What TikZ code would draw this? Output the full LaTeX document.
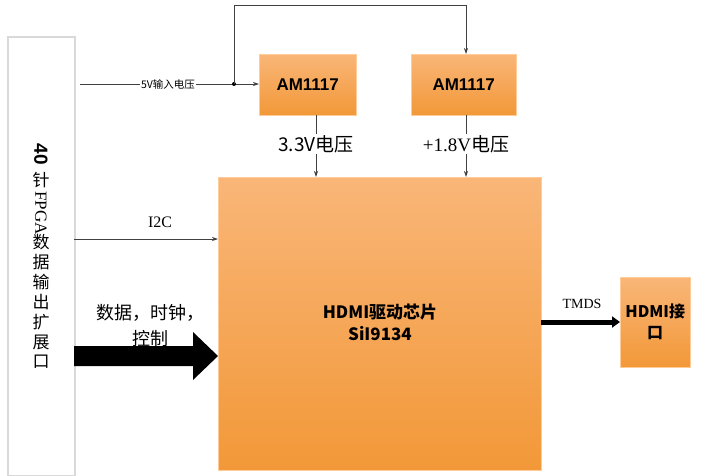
\documentclass[tikz,border=0pt]{standalone}
\usepackage{fontspec}
\setmainfont{Liberation Serif}
\newfontfamily\cjk{Noto Sans CJK SC}
\newfontfamily\sansb{Liberation Sans}
\usetikzlibrary{arrows.meta,calc}
\definecolor{orA}{HTML}{F9B678}
\definecolor{orB}{HTML}{F29838}
\tikzset{
  obox/.style={draw=orange!40, top color=orA, bottom color=orB, shading angle=0, inner sep=0},
  ln/.style={draw=black!75, line width=0.7pt},
  arr/.style={ln, -{Stealth[length=6pt,width=4pt]}},
  bl/.style={font=\sansb\bfseries\fontsize{17}{20}\selectfont, align=center},
  vc/.style={font=\cjk\fontsize{17}{20}\selectfont, inner sep=0},
}
\begin{document}
\begin{tikzpicture}[x=1pt,y=-1pt]
\useasboundingbox (0,0) rectangle (712,475);
% left box
\node[draw=black!15, line width=1.5pt, minimum width=67, minimum height=439, inner sep=0, anchor=north west] (L) at (7,36) {};
\node[vc, rotate=-90, font=\sansb\bfseries\fontsize{19}{20}\selectfont] (v1) at (41,154) {40};
\node[vc] (v2) at (41,180) {针};
\node[vc, rotate=-90, font=\fontsize{17}{20}\selectfont] (v3) at (41,213) {FPGA};
\node[vc] (v4) at (41,242) {数};
\node[vc] (v5) at (41,262) {据};
\node[vc] (v6) at (41,282) {输};
\node[vc] (v7) at (41,302) {出};
\node[vc] (v8) at (41,322) {扩};
\node[vc] (v9) at (41,342) {展};
\node[vc] (v10) at (41,362) {口};
% boxes
\node[obox, minimum width=97, minimum height=61, anchor=north west] (A1) at (259,54) {};
\node[bl] at (A1) {AM1117};
\node[obox, minimum width=105, minimum height=61, anchor=north west] (A2) at (411,54) {};
\node[bl] at (A2) {AM1117};
\node[obox, minimum width=323, minimum height=293, anchor=north west] (M) at (218,177) {};
\node[font=\cjk\bfseries\fontsize{17}{22}\selectfont, align=center] (Mt) at (380,322) {HDMI驱动芯片\\SiI9134};
\node[obox, minimum width=70, minimum height=90, anchor=north west] (H) at (620,277) {};
\node[font=\cjk\bfseries\fontsize{16}{21}\selectfont, align=center] at (H) {HDMI接\\口};
% 5V
\coordinate (s5) at (80,84);
\coordinate (j) at (234,84);
\draw[arr] (s5) -- (A1.west |- s5);
\node[fill=white, inner sep=1pt, font=\cjk\fontsize{10.5}{12}\selectfont] at (168,84) {5V输入电压};
\fill (j) circle (2);
\coordinate (t1) at (234,5);
\coordinate (t2) at (466,5);
\draw[arr] (j) -- (t1) -- (t2) -- (A2.north -| t2);
% voltages
\draw[arr] (316,115) -- (316,177);
\node[fill=white, inner sep=1pt, font=\cjk\fontsize{19}{22}\selectfont] at (316,144) {3.3V电压};
\draw[arr] (466,115) -- (466,177);
\node[fill=white, inner sep=1pt, font=\fontsize{19}{22}\selectfont] at (466,144) {+1.8V{\cjk 电压}};
% I2C
\draw[arr] (74,239) -- (218,239);
\node[font=\fontsize{16}{18}\selectfont] at (160,222) {I2C};
% big arrow
\fill (74,346) -- (193,346) -- (193,332) -- (218,356) -- (193,380) -- (193,366) -- (74,366) -- cycle;
\node[font=\cjk\fontsize{18}{26}\selectfont, align=center] at (150,326) {数据，时钟，\\控制};
% TMDS
\draw[black, line width=5pt, -{Triangle[length=8pt,width=11pt]}] (541,322) -- (H.west |- 0,322);
\node[font=\fontsize{14}{16}\selectfont] at (582,304) {TMDS};
\end{tikzpicture}
\end{document}
